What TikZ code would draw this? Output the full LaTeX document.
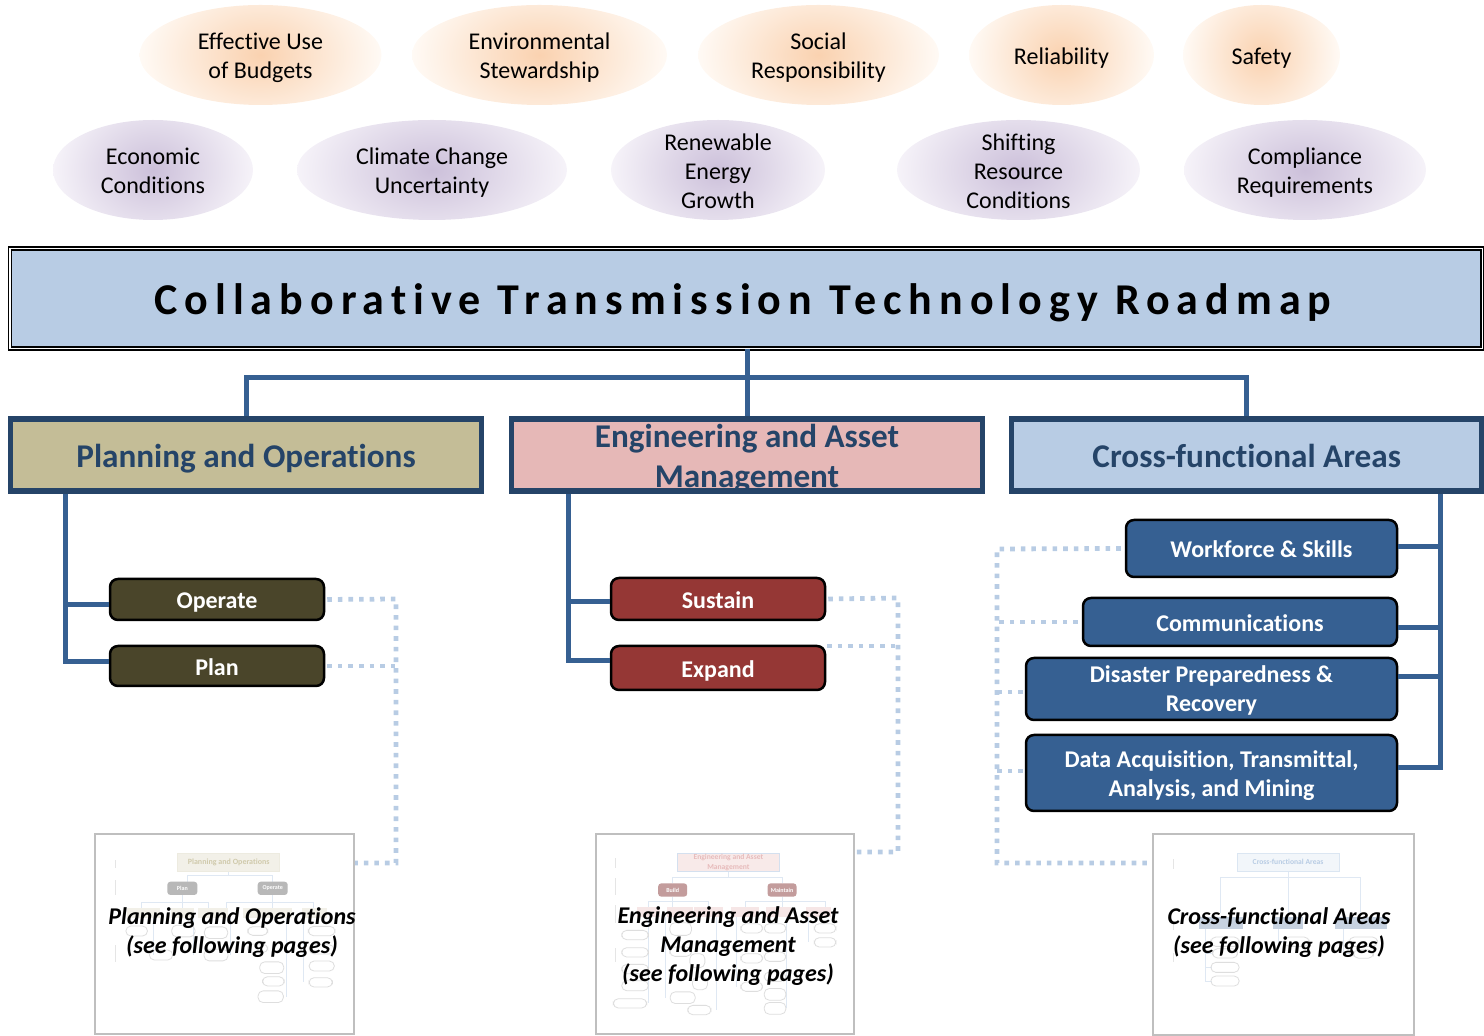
\documentclass[tikz,border=0pt]{standalone}
\usepackage{fontspec}
\setmainfont{Carlito}[Ligatures=NoCommon]
\usetikzlibrary{calc}
\definecolor{orC}{HTML}{FAD2B0}
\definecolor{orE}{HTML}{FFFAF5}
\definecolor{puC}{HTML}{CCC0DA}
\definecolor{puE}{HTML}{F6F3F9}
\definecolor{skyfill}{HTML}{B8CCE4}
\definecolor{tanfill}{HTML}{C4BD97}
\definecolor{pinkfill}{HTML}{E6B8B7}
\definecolor{hdrline}{HTML}{254468}
\definecolor{conn}{HTML}{366092}
\definecolor{olive}{HTML}{4A452A}
\definecolor{brick}{HTML}{953735}
\pgfdeclareradialshading{orglow}{\pgfpointorigin}{color(0bp)=(orC); color(25bp)=(orE); color(50bp)=(orE)}
\pgfdeclareradialshading{puglow}{\pgfpointorigin}{color(0bp)=(puC); color(25bp)=(puE); color(50bp)=(puE)}
\newcommand{\tst}[1]{\rule{0pt}{\dimexpr 0.7\baselineskip+#1\relax}}
\newcommand{\ovalnode}[7]{% name, x, y, rx, ry, shading, text
  \begin{scope}
    \clip (#2,#3) ellipse ({#4} and {#5});
    \path[shading=#6] (#2,#3) ellipse ({#4} and {1.7*#5});
  \end{scope}
  \node[ovaltext] (#1) at (#2,#3) {\tst{3.5pt}#7\strut};}
\tikzset{
  wd/.style={minimum width=#1*0.5pt},
  ht/.style={minimum height=#1*0.5pt},
  ovaltext/.style={inner sep=0pt,align=center,text=black,font=\fontsize{12}{14.5}\selectfont},
  titlebox/.style={draw=black,line width=0.65pt,double=white,double distance=0.8pt,fill=skyfill,inner sep=0pt,
    font=\fontsize{22}{26}\selectfont\bfseries\addfontfeature{LetterSpace=16}},
  hdrbox/.style={draw=hdrline,line width=2.6pt,inner sep=0pt,align=center,text=hdrline,
    font=\fontsize{16.6}{20}\selectfont\bfseries},
  subbox/.style={draw=black,line width=1.25pt,rounded corners=4pt,inner sep=0pt,align=center,text=white,
    font=\fontsize{12}{14.5}\selectfont\bfseries},
  blue box/.style={subbox,fill=conn},
  trunk/.style={draw=conn,line width=2.5pt},
  dots/.style={draw=skyfill,line width=2.4pt,dash pattern=on 2.3pt off 3pt},
  thumb/.style={draw=black!25,line width=1pt,fill=white,inner sep=0pt},
  thumblabel/.style={inner sep=0pt,align=center,text=black,font=\fontsize{12}{14.5}\selectfont\bfseries\itshape},
  tpill/.style={draw=black!13,line width=0.4pt,rounded corners=2.5pt},
  tline/.style={draw=skyfill!45,line width=0.4pt},
  tside/.style={draw=black!10,line width=0.5pt},
}
\begin{document}
\begin{tikzpicture}[x=0.5pt,y=-0.5pt]
\useasboundingbox (0,0) rectangle (1484,1036);
% ovals
\ovalnode{o1}{260.5}{55}{60.5pt}{25pt}{orglow}{Effective Use\\of Budgets}
\ovalnode{o2}{539.5}{55}{63.75pt}{25pt}{orglow}{Environmental\\Stewardship}
\ovalnode{o3}{818.5}{55}{60.25pt}{25pt}{orglow}{Social\\Responsibility}
\ovalnode{o4}{1061.5}{55}{46.25pt}{25pt}{orglow}{Reliability}
\ovalnode{o5}{1261.5}{55}{39.25pt}{25pt}{orglow}{Safety}
\ovalnode{p1}{153}{170}{50pt}{25pt}{puglow}{Economic\\Conditions}
\ovalnode{p2}{432}{170}{67.5pt}{25pt}{puglow}{Climate Change\\Uncertainty}
\ovalnode{p3}{718}{170}{53.5pt}{25pt}{puglow}{Renewable\\Energy\\Growth}
\ovalnode{p4}{1018.5}{170}{60.75pt}{25pt}{puglow}{Shifting\\Resource\\Conditions}
\ovalnode{p5}{1305}{170}{60.5pt}{25pt}{puglow}{Compliance\\Requirements}
% dotted link corners
\coordinate (dpC) at (396,599);
\coordinate (dpD) at (396,863);
\coordinate (deC) at (898,598);
\coordinate (deD) at (898,852);
\coordinate (dcC) at (997,549);
\coordinate (dcD) at (997,863);
% thumbnails
\node[thumb,wd=259,ht=200] (tp) at (224.5,934) {};
\node[thumb,wd=258,ht=200] (te) at (725,934) {};
\node[thumb,wd=261,ht=201] (tc) at (1283.5,934.5) {};
% thumbnail: planning
\begin{scope}[shift={(80,820)},x=0.1667pt,y=-0.1667pt]
  \draw[tline] (445,155)--(445,165) (323,185)--(323,165)--(578,165)--(578,185);
  \draw[tline] (307,225)--(307,265) (185,265)--(185,248)--(385,248)--(385,265) (578,225)--(578,265) (440,265)--(440,248)--(700,248)--(700,265);
  \draw[tline] (220,295)--(220,405) (340,295)--(340,405) (450,295)--(450,405) (620,295)--(620,530) (670,295)--(670,487);
  \node[draw=tanfill!30,fill=tanfill!22,minimum width=51pt,minimum height=9pt,inner sep=0pt,text=tanfill!80,font=\fontsize{4}{4.6}\selectfont\bfseries] (tp0) at (446,127) {Planning and Operations};
  \node[fill=black!28,rounded corners=1.5pt,minimum width=15pt,minimum height=6.6pt,inner sep=0pt,text=white,font=\fontsize{3}{3.5}\selectfont\bfseries] (tp1) at (307,205) {Plan};
  \node[fill=black!28,rounded corners=1.5pt,minimum width=15pt,minimum height=6.6pt,inner sep=0pt,text=white,font=\fontsize{3}{3.5}\selectfont\bfseries] (tp2) at (578,205) {Operate};
  \foreach \x/\w in {190/100,307/70,398/90,540/100,602/65,702/75}
    \fill[tanfill!22] (\x-\w/2,265) rectangle ++(\w,30);
  \foreach \x/\y/\w/\h in {170/333/65/30,310/333/70/35,408/338/70/35,408/405/72/35,243/405/70/30,533/333/60/26,533/385/60/26,725/333/80/28,725/388/75/28,725/438/76/30,722/487/70/28,575/443/72/35,580/484/65/28,572/530/76/35}
    \draw[tpill] (\x-\w/2,\y-\h/2) rectangle ++(\w,\h);
  \draw[tside] (105,120)--(105,145) (105,180)--(105,225) (105,375)--(105,425);
\end{scope}
% thumbnail: engineering
\begin{scope}[shift={(580,820)},x=0.1667pt,y=-0.1667pt]
  \draw[tline] (445,155)--(445,172) (278,190)--(278,172)--(606,172)--(606,190);
  \draw[tline] (278,230)--(278,260) (205,260)--(205,245)--(385,245)--(385,260) (606,230)--(606,260) (495,260)--(495,245)--(735,245)--(735,260);
  \draw[tline] (205,290)--(205,550) (255,290)--(255,533) (410,290)--(410,570) (470,290)--(470,500) (620,290)--(620,565) (685,290)--(685,367);
  \node[draw=skyfill!60,fill=pinkfill!30,minimum width=51pt,minimum height=9pt,inner sep=0pt,align=center,text=pinkfill!95,font=\fontsize{3.8}{4.7}\selectfont\bfseries] (te0) at (445,127) {Engineering and Asset\\Management};
  \node[fill=pinkfill!85!black,rounded corners=1.5pt,minimum width=14.5pt,minimum height=6.6pt,inner sep=0pt,text=white,font=\fontsize{3}{3.5}\selectfont\bfseries] (te1) at (278,210) {Build};
  \node[fill=pinkfill!85!black,rounded corners=1.5pt,minimum width=14.5pt,minimum height=6.6pt,inner sep=0pt,text=white,font=\fontsize{3}{3.5}\selectfont\bfseries] (te2) at (606,210) {Maintain};
  \foreach \x/\w in {205/70,300/80,385/85,495/85,595/75,715/75}
    \fill[pinkfill!35] (\x-\w/2,260) rectangle ++(\w,30);
  \foreach \x/\y/\w/\h in {165/345/80/28,165/397/80/28,165/447/80/28,165/497/80/30,150/550/100/28,302/327/65/38,302/395/65/28,352/422/45/42,360/490/45/38,308/533/75/35,358/570/70/28,515/325/65/28,515/415/65/28,515/500/65/28,585/325/65/28,585/410/65/28,585/470/65/28,585/523/65/35,585/565/65/35,735/325/65/28,735/367/65/28}
    \draw[tpill] (\x-\w/2,\y-\h/2) rectangle ++(\w,\h);
  \draw[tside] (105,115)--(105,145) (105,175)--(105,225) (105,255)--(105,310) (105,385)--(105,425);
\end{scope}
% thumbnail: cross-functional
\begin{scope}[shift={(1130,820)},x=0.1667pt,y=-0.1667pt]
  \draw[tline] (475,155)--(475,280) (272,280)--(272,172)--(692,172)--(692,280);
  \draw[tline] (225,325)--(225,483)--(245,483) (225,442)--(245,442) (225,400)--(245,400) (445,325)--(445,365)--(465,365) (640,325)--(640,400)--(660,400);
  \node[draw=skyfill!50,fill=skyfill!18,minimum width=51pt,minimum height=9pt,inner sep=0pt,text=skyfill,font=\fontsize{3.8}{4.4}\selectfont\bfseries] (tc0) at (474,127) {Cross-functional Areas};
  \foreach \x/\w in {273/130,475/90,692/155}
    \fill[conn!28] (\x-\w/2,292) rectangle ++(\w,34);
  \foreach \x/\y/\w/\h in {285/365/85/28,285/400/75/28,285/442/85/30,285/483/85/30,500/365/75/28,700/365/85/28,700/402/60/25}
    \draw[tpill] (\x-\w/2,\y-\h/2) rectangle ++(\w,\h);
  \draw[tside] (130,118)--(130,148) (130,305)--(130,330) (130,400)--(130,425);
\end{scope}
% title
\node[titlebox,wd=1472.5,ht=100] (title) at (746.25,298.5) {\tst{6pt}Collaborative Transmission Technology Roadmap\kern3.5pt\strut};
% headers
\node[hdrbox,fill=tanfill,wd=471,ht=72] (h1) at (246,455) {\tst{4.25pt}Planning and Operations\strut};
\node[hdrbox,fill=pinkfill,wd=471,ht=72] (h2) at (747,455) {\smash{\raisebox{-6pt}{\parbox[c]{230pt}{\centering Engineering and Asset\\Management}}}};
\node[hdrbox,fill=skyfill,wd=470.5,ht=72] (h3) at (1246.75,455) {\tst{4.25pt}Cross-functional Areas\strut};
% main tree
\coordinate (bus) at (747,378);
\draw[trunk] (title.south -| bus) -- (h2.north);
\draw[trunk] (h1.north) -- (h1.north |- bus) -- (h3.north |- bus) -- (h3.north);
% sub boxes
\node[subbox,fill=olive,wd=214,ht=41] (op) at (217,599.5) {\tst{3.5pt}Operate\strut};
\node[subbox,fill=olive,wd=214,ht=40] (pl) at (217,666) {\tst{3.5pt}Plan\strut};
\node[subbox,fill=brick,wd=214,ht=42] (su) at (718,599) {\tst{3.5pt}Sustain\strut};
\node[subbox,fill=brick,wd=214,ht=44] (ex) at (718,668) {\tst{3.5pt}Expand\strut};
\node[blue box,wd=271,ht=57] (wf) at (1261.5,548.5) {\tst{3.5pt}Workforce \& Skills\strut};
\node[blue box,wd=314,ht=48] (co) at (1240,622) {\tst{3.5pt}Communications\strut};
\node[blue box,wd=371,ht=62] (di) at (1211.5,689) {\tst{2pt}Disaster Preparedness \&\\Recovery\strut};
\node[blue box,wd=371,ht=76] (da) at (1211.5,773) {\tst{3.5pt}Data Acquisition, Transmittal,\\Analysis, and Mining\strut};
% trunks
\coordinate (t1) at (65,605); \coordinate (t2) at (65,662);
\draw[trunk] (h1.south -| t1) -- (t2) -- (t2 -| pl.west);
\draw[trunk] (t1) -- (t1 -| op.west);
\coordinate (t3) at (568,602); \coordinate (t4) at (568,661);
\draw[trunk] (h2.south -| t3) -- (t4) -- (t4 -| ex.west);
\draw[trunk] (t3) -- (t3 -| su.west);
\coordinate (t5) at (1440,547); \coordinate (t6) at (1440,628); \coordinate (t7) at (1440,677); \coordinate (t8) at (1440,768);
\draw[trunk] (h3.south -| t5) -- (t8) -- (t8 -| da.east);
\draw[trunk] (t5) -- (t5 -| wf.east);
\draw[trunk] (t6) -- (t6 -| co.east);
\draw[trunk] (t7) -- (t7 -| di.east);
% dotted
\draw[dots] ($(op.east)+(2,0)$) -- (dpC) -- (dpD) -- (tp.east |- dpD);
\draw[dots] ($(pl.east)+(2,0)$) -- (pl.east -| dpC);
\draw[dots] ($(su.east)+(2,0)$) -- (deC) -- (deD) -- (te.east |- deD);
\coordinate (e2) at (827,646);
\draw[dots] (e2) -- (e2 -| deC);
\draw[dots] ($(wf.west)+(-4,0)$) -- (dcC) -- (dcD) -- (dcD -| tc.west);
\draw[dots] ($(co.west)+(-4,0)$) -- (co.west -| dcC);
\coordinate (d3) at (1023,692); \coordinate (d4) at (1023,771);
\draw[dots] (d3) -- (d3 -| dcC);
\draw[dots] (d4) -- (d4 -| dcC);
% thumbnail labels
\node[thumblabel] (lp) at (232,932.5) {Planning and Operations\\(see following pages)};
\node[thumblabel] (le) at (728,946) {Engineering and Asset\\Management\\(see following pages)};
\node[thumblabel] (lc) at (1279,932.5) {Cross-functional Areas\\(see following pages)};
\end{tikzpicture}
\end{document}
